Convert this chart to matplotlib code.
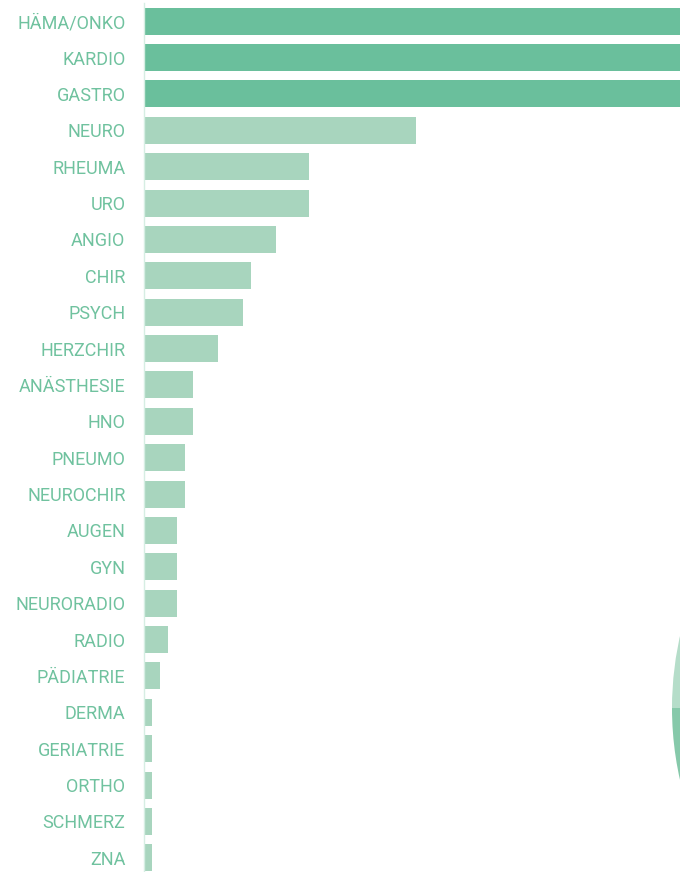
import matplotlib
matplotlib.use("Agg")
import matplotlib.pyplot as plt

# Fachbereiche und Anzahl (sortiert)
fachbereiche = [
    "HÄMA/ONKO", "KARDIO", "GASTRO", "NEURO", "RHEUMA", "URO", "ANGIO",
    "CHIR", "PSYCH", "HERZCHIR", "ANÄSTHESIE", "HNO", "PNEUMO", "NEUROCHIR",
    "AUGEN", "GYN", "NEURORADIO", "RADIO", "PÄDIATRIE", "DERMA", "GERIATRIE",
    "ORTHO", "SCHMERZ", "ZNA",
]
anzahl = [78, 74, 70, 33, 20, 20, 16, 13, 12, 9, 6, 6, 5, 5,
          4, 4, 4, 3, 2, 1, 1, 1, 1, 1]
top_n = 3

# Anteile für das Kreisdiagramm
kreis_anteile = [0.38, 0.62]

DARK = "#6abf9c"
LIGHT = "#a8d5be"
TEXT = "#70c29f"

plt.rcParams["font.family"] = ["Roboto", "DejaVu Sans"]

W, H, DPI = 680, 872, 100
fig = plt.figure(figsize=(W / DPI, H / DPI), dpi=DPI)

# Balkendiagramm
left = 143.5
ax = fig.add_axes([left / W, -4 / H, 1 - left / W, 1 + 1 / H])
y = list(range(len(fachbereiche)))
colors = [DARK if i < top_n else LIGHT for i in y]
ax.barh(y, anzahl, height=0.74, color=colors, zorder=2)
ax.set_ylim(len(fachbereiche) - 0.5, -0.5)
ax.set_xlim(0, (W - left) / 8.25)
ax.set_yticks(y)
ax.set_yticklabels(fachbereiche, fontsize=13, color=TEXT)
ax.tick_params(axis="y", length=0, pad=13)
ax.set_xticks([])
for s in ["top", "right", "bottom"]:
    ax.spines[s].set_visible(False)
ax.spines["left"].set_color("#d6eee3")
ax.spines["left"].set_linewidth(1)
ax.patch.set_alpha(0)

# Kreisdiagramm am rechten Rand
r = 328
cx, cy = 1000, 708
pax = fig.add_axes([(cx - r) / W, (H - cy - r) / H, 2 * r / W, 2 * r / H])
pax.pie(kreis_anteile, colors=["#86c9aa", "#b5ddc9"], startangle=180,
        counterclock=True, wedgeprops=dict(linewidth=0))
pax.set_xlim(-1, 1)
pax.set_ylim(-1, 1)
pax.set_aspect("auto")
pax.axis("off")

fig.savefig("out.png", dpi=DPI, facecolor="white")
